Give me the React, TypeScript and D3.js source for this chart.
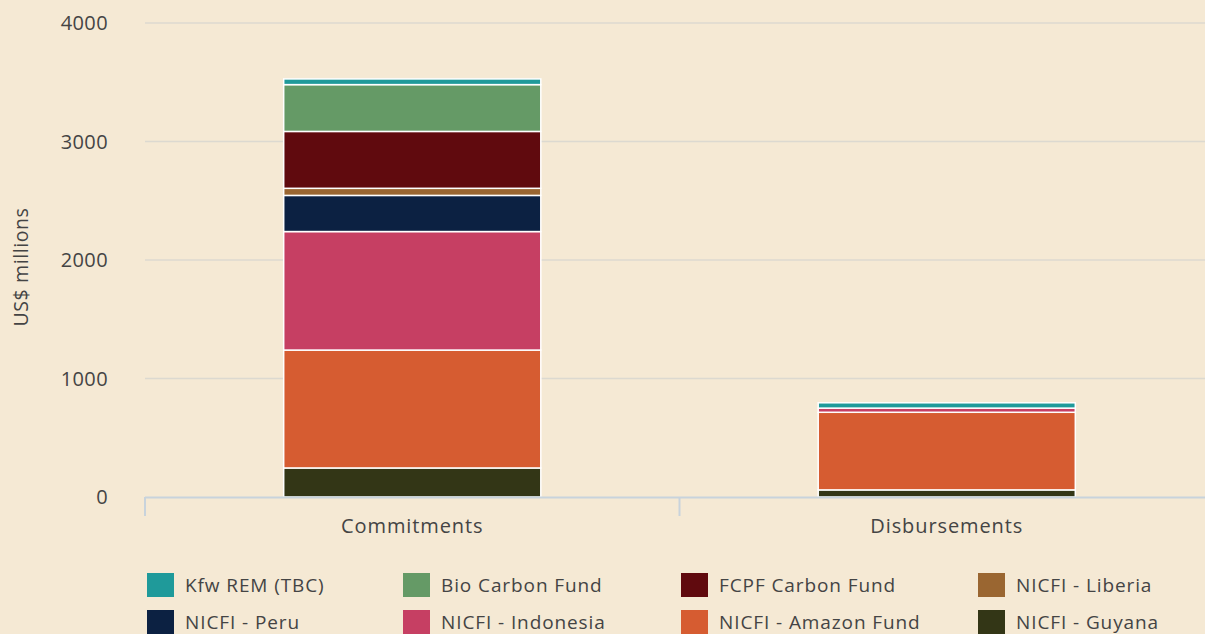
import React from "react";
import * as d3 from "d3";

const categories = ["Commitments", "Disbursements"];
const seriesNames = [
  "NICFI - Guyana",
  "NICFI - Amazon Fund",
  "NICFI - Indonesia",
  "NICFI - Peru",
  "NICFI - Liberia",
  "FCPF Carbon Fund",
  "Bio Carbon Fund",
  "Kfw REM (TBC)",
];
const commitments = [245, 995, 1000, 305, 60, 480, 395, 48];
const disbursements = [60, 655, 35, 0, 0, 0, 0, 45];
const yTicks = [0, 1000, 2000, 3000, 4000];
const legendOrder = [
  "Kfw REM (TBC)",
  "Bio Carbon Fund",
  "FCPF Carbon Fund",
  "NICFI - Liberia",
  "NICFI - Peru",
  "NICFI - Indonesia",
  "NICFI - Amazon Fund",
  "NICFI - Guyana",
];
const colors: Record<string, string> = {
  "Kfw REM (TBC)": "#1f9a9a",
  "Bio Carbon Fund": "#659a66",
  "FCPF Carbon Fund": "#600a0e",
  "NICFI - Liberia": "#9a6631",
  "NICFI - Peru": "#0c2142",
  "NICFI - Indonesia": "#c63f63",
  "NICFI - Amazon Fund": "#d65c31",
  "NICFI - Guyana": "#333616",
};

const W = 1205;
const H = 634;
const FONT = "'Open Sans', sans-serif";
const TEXT = "#444444";

export default function App() {
  const left = 145;
  const y = d3.scaleLinear().domain([0, 4000]).range([497, 23]);
  const x = d3.scaleBand<string>().domain(categories).range([left, left + 2 * 534.5]).padding(0);
  const barW = x.bandwidth() * 0.481;

  const rows = categories.map((c, i) => {
    const o: any = { cat: c };
    seriesNames.forEach((s, j) => {
      o[s] = (i === 0 ? commitments : disbursements)[j];
    });
    return o;
  });
  const stacked = d3.stack<any>().keys(seriesNames)(rows);

  const legendCols = [147, 403, 681, 978];
  const legendRows = [573, 610];

  return (
    <svg
      width={W}
      height={H}
      style={{ position: "absolute", left: 0, top: 0, background: "#f5e9d4" }}
      fontFamily={FONT}
    >
      <rect x={0} y={0} width={W} height={H} fill="#f5e9d4" />
      {yTicks.map((t) =>
        t === 0 ? null : (
          <line key={t} x1={left} x2={W} y1={y(t)} y2={y(t)} stroke="#dcd9d0" strokeWidth={1.5} />
        )
      )}
      {yTicks.map((t) => (
        <text
          key={"l" + t}
          x={108}
          y={y(t) + 7}
          textAnchor="end"
          fontSize={20}
          letterSpacing={0.4}
          fill={TEXT}
        >
          {t}
        </text>
      ))}
      <text
        transform={`translate(28,${267}) rotate(-90)`}
        textAnchor="middle"
        fontSize={19.5}
        letterSpacing={0.6}
        fill={TEXT}
      >
        US$ millions
      </text>
      {stacked.map((layer) =>
        layer.map((d, i) => {
          const v = d[1] - d[0];
          if (v <= 0) return null;
          const cat = categories[i];
          const cx = (x(cat) as number) + x.bandwidth() / 2;
          return (
            <rect
              key={layer.key + i}
              x={cx - barW / 2}
              y={y(d[1])}
              width={barW}
              height={y(d[0]) - y(d[1])}
              fill={colors[layer.key as string]}
              stroke="#ffffff"
              strokeWidth={1.5}
            />
          );
        })
      )}
      <line x1={left} x2={W} y1={497.5} y2={497.5} stroke="#c8d3dc" strokeWidth={2} />
      {categories.map((c) => (
        <line
          key={"t" + c}
          x1={x(c) as number}
          x2={x(c) as number}
          y1={497}
          y2={516}
          stroke="#c8d3dc"
          strokeWidth={2}
        />
      ))}
      {categories.map((c) => (
        <text
          key={"c" + c}
          x={(x(c) as number) + x.bandwidth() / 2}
          y={533}
          textAnchor="middle"
          fontSize={20}
          letterSpacing={0.9}
          fill={TEXT}
        >
          {c}
        </text>
      ))}
      {legendOrder.map((s, i) => {
        const lx = legendCols[i % 4];
        const ly = legendRows[Math.floor(i / 4)];
        return (
          <g key={s}>
            <rect x={lx} y={ly} width={27} height={24} fill={colors[s]} />
            <text x={lx + 38} y={ly + 19} fontSize={19} letterSpacing={0.9} fill={TEXT}>
              {s}
            </text>
          </g>
        );
      })}
    </svg>
  );
}
